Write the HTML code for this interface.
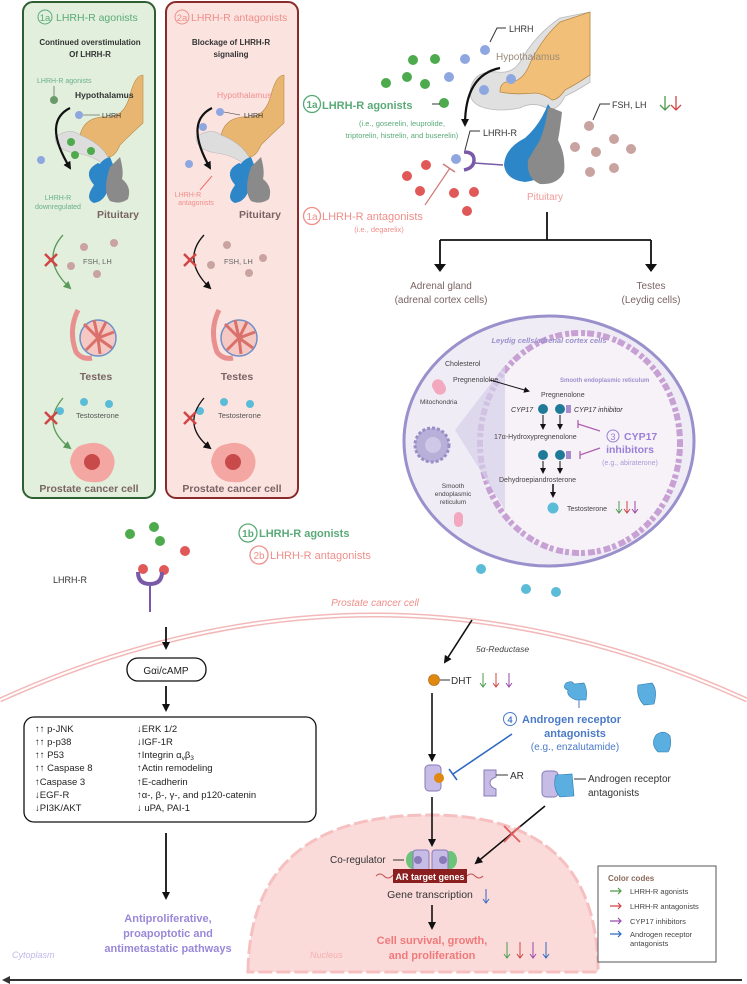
<!DOCTYPE html>
<html><head><meta charset="utf-8"><style>
html,body{margin:0;padding:0;background:#fff}
svg{display:block;font-family:"Liberation Sans",sans-serif}
</style></head><body>
<svg width="747" height="984" viewBox="0 0 747 984" xmlns="http://www.w3.org/2000/svg">
<defs>
<marker id="ah" markerWidth="8" markerHeight="8" refX="6" refY="4" orient="auto" markerUnits="userSpaceOnUse"><path d="M0,0 L8,4 L0,8 z" fill="#111"/></marker>
<marker id="ahg" markerWidth="8" markerHeight="8" refX="6" refY="4" orient="auto" markerUnits="userSpaceOnUse"><path d="M0,0 L8,4 L0,8 z" fill="#5a9a5a"/></marker>
<marker id="ahs" markerWidth="6" markerHeight="6" refX="4" refY="3" orient="auto" markerUnits="userSpaceOnUse"><path d="M0,0 L6,3 L0,6 z" fill="#111"/></marker>
<g id="hyp">
<path d="M0,60 Q5,40 30,42 Q45,40 50,20 Q55,0 63,0 L63,48 Q50,60 40,70 Q35,82 28,82 Q20,68 0,60z" fill="#e8b671" stroke="#b58a4a" stroke-width="0.6"/>
<path d="M-25,62 Q-10,52 0,60 Q20,68 28,82 L30,95 Q15,80 -5,78 Q-25,75 -25,62z" fill="#ddd" stroke="#bbb" stroke-width="0.6"/>
<path d="M18,92 Q22,84 30,82 L34,92 Q30,98 24,100z" fill="#2d86c7"/>
<path d="M14,110 Q2,96 18,88 Q28,92 30,104 Q28,126 14,128 Q4,124 14,110z" fill="#2d86c7"/>
<path d="M30,92 L40,82 Q44,96 42,104 Q52,112 48,124 Q40,130 30,126 Q22,116 30,92z" fill="#8a8a8a"/>
</g>
<g id="tes">
<path d="M-14,-20 Q-24,0 -16,22 Q-10,30 0,28" fill="none" stroke="#e89090" stroke-width="5"/>
<circle cx="6" cy="8" r="18" fill="#f6c8c3" stroke="#6d8fc8" stroke-width="1.5"/>
<path d="M6,8 L-8,-6 M6,8 L2,-10 M6,8 L14,-8 M6,8 L22,2 M6,8 L20,18 M6,8 L8,24 M6,8 L-6,20" stroke="#d9706a" stroke-width="3"/>
</g>
<g id="pcell">
<path d="M-22,0 Q-20,-16 -6,-18 Q8,-22 18,-12 Q26,-2 20,10 Q14,22 0,20 Q-18,20 -22,0z" fill="#f4a6a2"/>
<circle cx="0" cy="0" r="8" fill="#c84a4a"/>
</g>
</defs>

<!-- left panels -->
<rect x="23" y="2" width="132" height="496" rx="10" fill="#e2efdc" stroke="#2f5e32" stroke-width="2"/>
<rect x="166" y="2" width="132" height="496" rx="10" fill="#fbe3e0" stroke="#8a2b2b" stroke-width="2"/>
<g font-size="10.5">
<circle cx="45" cy="17" r="7" fill="none" stroke="#5aaa78"/><text x="45" y="21" fill="#5aaa78" text-anchor="middle" font-size="9.5">1a</text>
<text x="56" y="21" fill="#5aaa78">LHRH-R agonists</text>
<circle cx="182" cy="17" r="7" fill="none" stroke="#ef8f8a"/><text x="182" y="21" fill="#ef8f8a" text-anchor="middle" font-size="9.5">2a</text>
<text x="191" y="21" fill="#ef8f8a">LHRH-R antagonists</text>
</g>
<g font-size="8" font-weight="bold" fill="#333" text-anchor="middle">
<text x="90" y="45">Continued overstimulation</text><text x="90" y="57">Of LHRH-R</text>
<text x="231" y="45">Blockage of LHRH-R</text><text x="231" y="57">signaling</text>
</g>
<use href="#hyp" x="80" y="75"/>
<use href="#hyp" x="221" y="75"/>
<text x="37" y="83" font-size="7" fill="#6bb08a">LHRH-R agonists</text>
<line x1="54" y1="86" x2="54" y2="97" stroke="#444" stroke-width="0.6"/><circle cx="54" cy="100" r="4" fill="#6a9a6a"/>
<text x="75" y="98" font-size="8.5" font-weight="bold" fill="#333">Hypothalamus</text>
<text x="217" y="98" font-size="8.5" fill="#f08e8e">Hypothalamus</text>
<g fill="#8fa7e0"><circle cx="79" cy="115" r="4"/><circle cx="41" cy="160" r="4"/><circle cx="220" cy="112" r="4"/><circle cx="203" cy="127" r="4"/><circle cx="189" cy="164" r="4"/></g>
<g fill="#4daa4d"><circle cx="71" cy="142" r="4"/><circle cx="75" cy="155" r="4"/><circle cx="91" cy="151" r="4"/></g>
<line x1="83" y1="115" x2="100" y2="115" stroke="#333" stroke-width="0.6"/><text x="102" y="118" font-size="7" fill="#333">LHRH</text>
<line x1="224" y1="112" x2="240" y2="115" stroke="#333" stroke-width="0.6"/><text x="244" y="118" font-size="7" fill="#333">LHRH</text>
<path d="M70,108 Q42,122 70,168" fill="none" stroke="#111" stroke-width="2.2" marker-end="url(#ah)"/>
<path d="M212,108 Q184,122 210,168" fill="none" stroke="#111" stroke-width="2.2" marker-end="url(#ah)"/>
<text x="58" y="200" font-size="7" fill="#6bb08a" text-anchor="middle">LHRH-R</text><text x="58" y="209" font-size="7" fill="#6bb08a" text-anchor="middle">downregulated</text>
<text x="188" y="197" font-size="7" fill="#ef8f8a" text-anchor="middle">LHRH-R</text><text x="196" y="205" font-size="7" fill="#ef8f8a" text-anchor="middle">antagonists</text>
<line x1="200" y1="190" x2="212" y2="176" stroke="#ef6f6f"/>
<text x="118" y="218" font-size="10.5" font-weight="bold" fill="#7a6464" text-anchor="middle">Pituitary</text>
<text x="260" y="218" font-size="10.5" font-weight="bold" fill="#7a6464" text-anchor="middle">Pituitary</text>
<g fill="#c9a3a0"><circle cx="84" cy="247" r="4"/><circle cx="114" cy="243" r="4"/><circle cx="71" cy="266" r="4"/><circle cx="97" cy="274" r="4"/><circle cx="227" cy="245" r="4"/><circle cx="263" cy="258" r="4"/><circle cx="211" cy="265" r="4"/><circle cx="249" cy="273" r="4"/></g>
<text x="83" y="264" font-size="7.5" fill="#666">FSH, LH</text><text x="224" y="264" font-size="7.5" fill="#666">FSH, LH</text>
<path d="M63,235 Q40,260 70,288" fill="none" stroke="#5a9a5a" stroke-width="1.3" marker-end="url(#ahg)"/>
<path d="M204,235 Q181,260 210,288" fill="none" stroke="#111" stroke-width="1.3" marker-end="url(#ah)"/>
<g stroke="#d04545" stroke-width="2.5"><path d="M45,254 L57,266 M57,254 L45,266"/><path d="M184,254 L196,266 M196,254 L184,266"/></g>
<use href="#tes" x="92" y="330"/><use href="#tes" x="233" y="330"/>
<text x="96" y="380" font-size="10.5" font-weight="bold" fill="#7a6464" text-anchor="middle">Testes</text>
<text x="237" y="380" font-size="10.5" font-weight="bold" fill="#7a6464" text-anchor="middle">Testes</text>
<g fill="#5bbcd8"><circle cx="60" cy="411" r="4"/><circle cx="84" cy="402" r="4"/><circle cx="109" cy="404" r="4"/><circle cx="200" cy="411" r="4"/><circle cx="224" cy="402" r="4"/><circle cx="250" cy="404" r="4"/></g>
<text x="76" y="418" font-size="7.5" fill="#555">Testosterone</text><text x="218" y="418" font-size="7.5" fill="#555">Testosterone</text>
<path d="M63,398 Q40,425 70,448" fill="none" stroke="#5a9a5a" stroke-width="1.3" marker-end="url(#ahg)"/>
<path d="M204,398 Q181,425 210,448" fill="none" stroke="#111" stroke-width="1.3" marker-end="url(#ah)"/>
<g stroke="#d04545" stroke-width="2.5"><path d="M45,412 L57,424 M57,412 L45,424"/><path d="M184,412 L196,424 M196,412 L184,424"/></g>
<use href="#pcell" x="92" y="462"/><use href="#pcell" x="233" y="462"/>
<text x="89" y="492" font-size="10.5" font-weight="bold" fill="#7a6464" text-anchor="middle">Prostate cancer cell</text>
<text x="232" y="492" font-size="10.5" font-weight="bold" fill="#7a6464" text-anchor="middle">Prostate cancer cell</text>

<!-- top right -->
<path d="M470,92 Q472,70 498,72 Q512,74 520,62 Q535,35 560,18 L590,12 L590,82 Q575,92 565,96 Q560,108 550,110 Q535,100 520,108 Q500,112 485,108 Q470,104 470,92z" fill="#e0e0e0" stroke="#bbb" stroke-width="0.8"/>
<path d="M500,92 Q500,80 512,82 Q522,80 528,68 Q540,40 560,22 L590,12 L590,75 Q575,85 565,90 Q558,100 552,100 Q545,94 535,93 Q515,95 500,92z" fill="#f2bf78" stroke="#b58a4a" stroke-width="0.8"/>
<path d="M548,104 Q540,125 525,138 Q505,148 504,165 Q506,180 525,182 Q540,180 548,172 L552,110z" fill="#2d86c7"/>
<path d="M552,108 L562,112 Q560,130 558,140 Q566,155 564,172 Q558,185 540,184 Q526,178 528,160 Q535,148 540,140 Q546,125 548,108z" fill="#8a8a8a"/>
<text x="496" y="60" font-size="10" fill="#9a8a7a">Hypothalamus</text>
<path d="M490,42 L497,28 L506,28" fill="none" stroke="#333"/><text x="509" y="32" font-size="9" fill="#333">LHRH</text>
<g fill="#8fa7e0"><circle cx="485" cy="50" r="5"/><circle cx="465" cy="59" r="5"/><circle cx="449" cy="77" r="5"/><circle cx="484" cy="90" r="5"/><circle cx="511" cy="79" r="5"/><circle cx="456" cy="159" r="5"/></g>
<g fill="#4daa4d"><circle cx="413" cy="60" r="5"/><circle cx="435" cy="59" r="5"/><circle cx="407" cy="77" r="5"/><circle cx="386" cy="83" r="5"/><circle cx="425" cy="84" r="5"/><circle cx="444" cy="103" r="5"/></g>
<line x1="432" y1="104" x2="440" y2="104" stroke="#333"/>
<path d="M500,68 Q465,75 465,125" fill="none" stroke="#111" stroke-width="2.2" marker-end="url(#ah)"/>
<circle cx="312" cy="104" r="8.5" fill="none" stroke="#5aaa78" stroke-width="1.3"/><text x="312" y="108" font-size="10" font-weight="bold" fill="#5aaa78" text-anchor="middle">1a</text>
<text x="322" y="109" font-size="11" font-weight="bold" fill="#5aaa78">LHRH-R agonists</text>
<text x="402" y="126" font-size="7.5" fill="#5aaa78" text-anchor="middle">(i.e., goserelin, leuprolide,</text>
<text x="402" y="138" font-size="7.5" fill="#5aaa78" text-anchor="middle">triptorelin, histrelin, and buserelin)</text>
<path d="M465,150 L470,131 L480,131" fill="none" stroke="#333"/><text x="483" y="136" font-size="9" fill="#333">LHRH-R</text>
<path d="M464,152 Q474,152 474,160 Q474,168 464,170" fill="none" stroke="#7a5aa8" stroke-width="3.5"/>
<line x1="474" y1="163" x2="503" y2="165" stroke="#7a5aa8" stroke-width="1.5"/>
<g fill="#e15858"><circle cx="426" cy="165" r="5"/><circle cx="407" cy="176" r="5"/><circle cx="420" cy="191" r="5"/><circle cx="454" cy="193" r="5"/><circle cx="474" cy="192" r="5"/><circle cx="467" cy="211" r="5"/></g>
<line x1="425" y1="205" x2="450" y2="168" stroke="#d07a7a" stroke-width="1.2"/><line x1="443" y1="164" x2="455" y2="172" stroke="#d07a7a" stroke-width="1.5"/>
<circle cx="312" cy="216" r="8.5" fill="none" stroke="#ef8f8a" stroke-width="1.3"/><text x="312" y="220" font-size="10" fill="#ef8f8a" text-anchor="middle">1a</text>
<text x="322" y="220" font-size="11" fill="#ef8f8a">LHRH-R antagonists</text>
<text x="379" y="232" font-size="7.5" fill="#ef8f8a" text-anchor="middle">(i.e., degarelix)</text>
<path d="M593,120 L600,104 L610,104" fill="none" stroke="#333"/>
<text x="612" y="108" font-size="9" fill="#333">FSH, LH</text>
<path d="M665,96 L665,110 M660,105 L665,110 L670,105" stroke="#4e9a4e" fill="none" stroke-width="1.3"/>
<path d="M676,96 L676,110 M671,105 L676,110 L681,105" stroke="#d04545" fill="none" stroke-width="1.3"/>
<g fill="#c9a3a0"><circle cx="589" cy="126" r="5"/><circle cx="575" cy="147" r="5"/><circle cx="614" cy="139" r="5"/><circle cx="596" cy="152" r="5"/><circle cx="631" cy="149" r="5"/><circle cx="614" cy="168" r="5"/><circle cx="590" cy="172" r="5"/></g>
<text x="545" y="200" font-size="10" fill="#ef9a9a" text-anchor="middle">Pituitary</text>
<path d="M547,212 L547,240 M440,240 L651,240 M440,240 L440,267 M651,240 L651,267" stroke="#111" stroke-width="1.8" fill="none"/>
<path d="M434,264 L440,272 L446,264z M645,264 L651,272 L657,264z" fill="#111"/>
<text x="441" y="289" font-size="10" fill="#7a6464" text-anchor="middle">Adrenal gland</text>
<text x="441" y="303" font-size="10" fill="#7a6464" text-anchor="middle">(adrenal cortex cells)</text>
<text x="651" y="289" font-size="10" fill="#7a6464" text-anchor="middle">Testes</text>
<text x="651" y="303" font-size="10" fill="#7a6464" text-anchor="middle">(Leydig cells)</text>

<!-- oval -->
<ellipse cx="549" cy="441" rx="145" ry="125" fill="#f0ecf6" stroke="#9a90cc" stroke-width="3"/>
<ellipse cx="580" cy="443" rx="100" ry="110" fill="#f7f2f8" stroke="#c7a0d4" stroke-width="6" stroke-dasharray="4 2 7 3"/>
<path d="M455,430 L505,365 L505,510z" fill="#d6d0ea" opacity="0.7"/>
<circle cx="432" cy="445" r="17" fill="#b8b0d8" stroke="#9a8ec8" stroke-width="3" stroke-dasharray="3 2"/>
<circle cx="433" cy="445" r="8" fill="#cfc8e6"/>
<text x="549" y="343" font-size="7.5" font-style="italic" font-weight="bold" fill="#9a90cc" text-anchor="middle">Leydig cells/adrenal cortex cells</text>
<text x="445" y="366" font-size="7" fill="#444">Cholesterol</text>
<text x="453" y="382" font-size="7" fill="#444">Pregnenololne</text>
<text x="560" y="382" font-size="6" font-weight="bold" fill="#a08fd0">Smooth endoplasmic reticulum</text>
<rect x="433" y="379" width="12" height="16" rx="6" fill="#f2a8be" transform="rotate(-30 439 387)"/>
<text x="420" y="404" font-size="6.5" fill="#444">Mitochondria</text>
<line x1="490" y1="380" x2="528" y2="391" stroke="#111" marker-end="url(#ahs)"/>
<text x="541" y="397" font-size="7" fill="#444">Pregnenolone</text>
<g fill="#1f7a9a"><circle cx="543" cy="409" r="5"/><circle cx="560" cy="409" r="5"/><circle cx="543" cy="455" r="5"/><circle cx="560" cy="455" r="5"/></g>
<rect x="566" y="405" width="5" height="8" fill="#a88cd0"/><rect x="566" y="451" width="5" height="8" fill="#a88cd0"/>
<text x="511" y="412" font-size="7" font-style="italic" fill="#333">CYP17</text>
<text x="574" y="412" font-size="7" font-style="italic" fill="#333">CYP17 inhibitor</text>
<g stroke="#111" marker-end="url(#ahs)"><line x1="543" y1="415" x2="543" y2="428"/><line x1="560" y1="415" x2="560" y2="428"/><line x1="543" y1="461" x2="543" y2="472"/><line x1="560" y1="461" x2="560" y2="472"/><line x1="553" y1="484" x2="553" y2="496" stroke-width="1.5"/></g>
<text x="494" y="439" font-size="7" fill="#444">17α-Hydroxypregnenolone</text>
<text x="499" y="482" font-size="7" fill="#444">Dehydroepiandrosterone</text>
<circle cx="553" cy="508" r="5.5" fill="#5bbcd8"/><text x="567" y="511" font-size="7" fill="#444">Testosterone</text>
<path d="M619,501 L619,513 M616,509 L619,513 L622,509" stroke="#4e9a4e" fill="none"/>
<path d="M627,501 L627,513 M624,509 L627,513 L630,509" stroke="#d04545" fill="none"/>
<path d="M635,501 L635,513 M632,509 L635,513 L638,509" stroke="#9a4aa8" fill="none"/>
<path d="M600,431 L578,424 M578,420 L578,428 M600,448 L580,455 M580,451 L580,459" stroke="#b060b0" stroke-width="1.3" fill="none"/>
<circle cx="613" cy="436" r="6" fill="none" stroke="#9a80d8"/><text x="613" y="440" font-size="9" fill="#9a80d8" text-anchor="middle">3</text>
<text x="624" y="440" font-size="10.5" font-weight="bold" fill="#9a80d8">CYP17</text>
<text x="630" y="453" font-size="10.5" font-weight="bold" fill="#9a80d8" text-anchor="middle">inhibitors</text>
<text x="630" y="465" font-size="7" fill="#a89ad8" text-anchor="middle">(e.g., abiraterone)</text>
<text x="453" y="488" font-size="6.5" fill="#444" text-anchor="middle">Smooth</text>
<text x="453" y="496" font-size="6.5" fill="#444" text-anchor="middle">endoplasmic</text>
<text x="453" y="504" font-size="6.5" fill="#444" text-anchor="middle">reticulum</text>
<rect x="454" y="512" width="9" height="15" rx="4.5" fill="#f2a8be"/>

<!-- middle -->
<g fill="#4daa4d"><circle cx="130" cy="534" r="5"/><circle cx="154" cy="527" r="5"/><circle cx="160" cy="541" r="5"/></g>
<circle cx="248" cy="533" r="9" fill="none" stroke="#5aaa78" stroke-width="1.3"/><text x="248" y="537" font-size="10" font-weight="bold" fill="#5aaa78" text-anchor="middle">1b</text>
<text x="259" y="537" font-size="11" font-weight="bold" fill="#5aaa78">LHRH-R agonists</text>
<circle cx="259" cy="555" r="9" fill="none" stroke="#ef8f8a" stroke-width="1.3"/><text x="259" y="559" font-size="10" fill="#ef8f8a" text-anchor="middle">2b</text>
<text x="270" y="559" font-size="11" fill="#ef8f8a">LHRH-R antagonists</text>
<g fill="#e15858"><circle cx="185" cy="551" r="5"/><circle cx="164" cy="570" r="5"/><circle cx="143" cy="569" r="5"/></g>
<text x="53" y="583" font-size="9" fill="#333">LHRH-R</text>
<path d="M138,572 Q138,584 150,584 Q162,584 162,572" fill="none" stroke="#7a5aa8" stroke-width="4"/>
<line x1="150" y1="586" x2="150" y2="612" stroke="#7a5aa8" stroke-width="2"/>
<g fill="#5bbcd8"><circle cx="481" cy="569" r="5"/><circle cx="526" cy="589" r="5"/><circle cx="556" cy="592" r="5"/></g>
<path d="M0,700 Q375,530 747,700" fill="none" stroke="#f3b8b8" stroke-width="5"/>
<path d="M0,700 Q375,530 747,700" fill="none" stroke="#fff" stroke-width="2"/>
<text x="375" y="606" font-size="10" font-style="italic" fill="#ef8f8a" text-anchor="middle">Prostate cancer cell</text>
<line x1="166" y1="627" x2="166" y2="648" stroke="#111" stroke-width="1.8" marker-end="url(#ah)"/>
<rect x="127" y="658" width="79" height="23" rx="11" fill="#fff" stroke="#111" stroke-width="1.3"/>
<text x="166" y="674" font-size="10" fill="#222" text-anchor="middle">Gαi/cAMP</text>
<line x1="166" y1="686" x2="166" y2="710" stroke="#111" stroke-width="1.8" marker-end="url(#ah)"/>
<rect x="24" y="717" width="292" height="105" rx="10" fill="#fff" stroke="#111" stroke-width="1.3"/>
<g font-size="9.5" fill="#222">
<text x="35" y="732">↑↑ p-JNK</text><text x="35" y="745">↑↑ p-p38</text><text x="35" y="758">↑↑ P53</text><text x="35" y="771">↑↑ Caspase 8</text><text x="35" y="785">↑Caspase 3</text><text x="35" y="798">↓EGF-R</text><text x="35" y="811">↓PI3K/AKT</text>
<text x="137" y="732">↓ERK 1/2</text><text x="137" y="745">↓IGF-1R</text><text x="137" y="758">↑Integrin α<tspan font-size="6.5" dy="2">v</tspan><tspan dy="-2">β</tspan><tspan font-size="6.5" dy="2">3</tspan></text><text x="137" y="771">↑Actin remodeling</text><text x="137" y="785">↑E-cadherin</text><text x="137" y="798">↑α-, β-, γ-, and p120-catenin</text><text x="137" y="811">↓ uPA, PAI-1</text>
</g>
<line x1="166" y1="833" x2="166" y2="898" stroke="#111" stroke-width="1.8" marker-end="url(#ah)"/>
<g font-size="11" font-weight="bold" fill="#9a88d8" text-anchor="middle"><text x="168" y="922">Antiproliferative,</text><text x="168" y="937">proapoptotic and</text><text x="168" y="952">antimetastatic pathways</text></g>
<text x="12" y="958" font-size="9" font-style="italic" fill="#c0b8e8">Cytoplasm</text>

<!-- nucleus -->
<path d="M248,972 Q250,815 430,815 Q598,815 598,972z" fill="#fbdada" stroke="#f6c0c0" stroke-width="3" stroke-dasharray="14 4"/>
<text x="310" y="958" font-size="9" font-style="italic" fill="#f4b0b0">Nucleus</text>
<line x1="4" y1="980" x2="742" y2="980" stroke="#333" stroke-width="2"/><path d="M2,980 L10,976 L10,984z" fill="#333"/>

<!-- right bottom -->
<text x="476" y="652" font-size="8.5" font-style="italic" fill="#444">5α-Reductase</text>
<line x1="472" y1="620" x2="445" y2="662" stroke="#111" stroke-width="1.6" marker-end="url(#ah)"/>
<circle cx="434" cy="680" r="5.5" fill="#e0880f" stroke="#a55a00" stroke-width="0.6"/><line x1="440" y1="680" x2="450" y2="680" stroke="#333"/>
<text x="451" y="684" font-size="10" fill="#333">DHT</text>
<path d="M483,673 L483,687 M480,683 L483,687 L486,683" stroke="#4e9a4e" fill="none"/>
<path d="M496,673 L496,687 M493,683 L496,687 L499,683" stroke="#d04545" fill="none"/>
<path d="M509,673 L509,687 M506,683 L509,687 L512,683" stroke="#9a4aa8" fill="none"/>
<line x1="432" y1="693" x2="432" y2="760" stroke="#111" stroke-width="1.6" marker-end="url(#ah)"/>
<g fill="#5aaee0" stroke="#2a7ab0" stroke-width="0.6">
<path d="M566,683 Q572,680 574,684 L584,683 Q588,690 586,700 L576,700 Q566,696 568,690 Q562,688 566,683z"/>
<path d="M638,685 L652,683 Q658,690 654,704 L644,705 Q636,697 638,685z"/>
<path d="M656,735 Q664,729 670,736 Q672,746 668,752 L658,752 Q650,744 656,735z"/>
</g>
<line x1="579" y1="700" x2="579" y2="708" stroke="#4a7ac8"/>
<circle cx="510" cy="719" r="6.5" fill="none" stroke="#4a7ac8"/><text x="510" y="723" font-size="9" font-weight="bold" fill="#4a7ac8" text-anchor="middle">4</text>
<text x="522" y="723" font-size="11" font-weight="bold" fill="#4a7ac8">Androgen receptor</text>
<text x="575" y="737" font-size="11" font-weight="bold" fill="#4a7ac8" text-anchor="middle">antagonists</text>
<text x="575" y="750" font-size="10" fill="#4a7ac8" text-anchor="middle">(e.g., enzalutamide)</text>
<line x1="512" y1="734" x2="453" y2="774" stroke="#2f6ac0" stroke-width="1.6"/><line x1="449" y1="769" x2="457" y2="780" stroke="#2f6ac0" stroke-width="1.6"/>
<rect x="425" y="765" width="16" height="26" rx="4" fill="#c6bce6" stroke="#8a7ab8"/><circle cx="439" cy="778" r="5" fill="#e0880f"/>
<path d="M484,770 L496,770 L496,777 Q490,779 490,783 Q490,787 496,789 L496,796 L484,796z" fill="#c6bce6" stroke="#8a7ab8"/>
<line x1="496" y1="775" x2="508" y2="775" stroke="#333"/><text x="510" y="779" font-size="10" fill="#333">AR</text>
<rect x="542" y="771" width="16" height="26" rx="4" fill="#c6bce6" stroke="#8a7ab8"/>
<path d="M556,775 L572,774 L574,796 L560,797 Q552,788 556,775z" fill="#5aaee0" stroke="#2a7ab0" stroke-width="0.6"/>
<line x1="574" y1="779" x2="586" y2="779" stroke="#333"/>
<text x="588" y="782" font-size="10" fill="#333">Androgen receptor</text><text x="588" y="796" font-size="10" fill="#333">antagonists</text>
<line x1="432" y1="797" x2="432" y2="845" stroke="#111" stroke-width="1.6" marker-end="url(#ah)"/>
<line x1="545" y1="806" x2="476" y2="863" stroke="#111" stroke-width="1.6" marker-end="url(#ah)"/>
<path d="M504,826 L520,842 M520,826 L504,842" stroke="#e06060" stroke-width="1.8"/>
<text x="330" y="863" font-size="10" fill="#333">Co-regulator</text><line x1="393" y1="860" x2="404" y2="860" stroke="#333"/>
<ellipse cx="413" cy="860" rx="7" ry="9" fill="#6cc47a"/><ellipse cx="450" cy="860" rx="7" ry="9" fill="#6cc47a"/>
<rect x="413" y="850" width="16" height="22" rx="3" fill="#c6bce6" stroke="#8a7ab8"/><rect x="432" y="850" width="16" height="22" rx="3" fill="#c6bce6" stroke="#8a7ab8"/>
<circle cx="418" cy="860" r="4" fill="#8a7ab8"/><circle cx="443" cy="860" r="4" fill="#8a7ab8"/>
<path d="M376,876 q4,-4 8,0 t8,0 t8,0 M467,876 q4,-4 8,0 t8,0" stroke="#c05050" fill="none"/>
<rect x="393" y="869" width="74" height="14" fill="#8b1f1f"/>
<text x="430" y="880" font-size="9" font-weight="bold" fill="#fff" text-anchor="middle">AR target genes</text>
<text x="430" y="898" font-size="10.5" fill="#333" text-anchor="middle">Gene transcription</text>
<path d="M486,889 L486,903 M483,899 L486,903 L489,899" stroke="#2f6ac0" fill="none"/>
<line x1="432" y1="905" x2="432" y2="928" stroke="#111" stroke-width="1.6" marker-end="url(#ah)"/>
<g font-size="11" font-weight="bold" fill="#f07a7a" text-anchor="middle"><text x="432" y="944">Cell survival, growth,</text><text x="432" y="959">and proliferation</text></g>
<path d="M507,942 L507,958 M504,954 L507,958 L510,954" stroke="#4e9a4e" fill="none"/>
<path d="M520,942 L520,958 M517,954 L520,958 L523,954" stroke="#d04545" fill="none"/>
<path d="M533,942 L533,958 M530,954 L533,958 L536,954" stroke="#9a4aa8" fill="none"/>
<path d="M546,942 L546,958 M543,954 L546,958 L549,954" stroke="#2f6ac0" fill="none"/>
<rect x="598" y="866" width="118" height="96" fill="#fff" stroke="#555"/>
<text x="608" y="881" font-size="8" fill="#8a6a5a" font-weight="bold">Color codes</text>
<g font-size="7.5" fill="#444">
<text x="630" y="894">LHRH-R agonists</text><text x="630" y="909">LHRH-R antagonists</text><text x="630" y="924">CYP17 inhibitors</text><text x="630" y="937">Androgen receptor</text><text x="630" y="946">antagonists</text>
</g>
<g stroke-width="1.2" fill="none"><path d="M610,891 L621,891 M618,888 L621,891 L618,894" stroke="#4e9a4e"/><path d="M610,906 L621,906 M618,903 L621,906 L618,909" stroke="#d04545"/><path d="M610,921 L621,921 M618,918 L621,921 L618,924" stroke="#9a4aa8"/><path d="M610,934 L621,934 M618,931 L621,934 L618,937" stroke="#2f6ac0"/></g>
</svg>
</body></html>
